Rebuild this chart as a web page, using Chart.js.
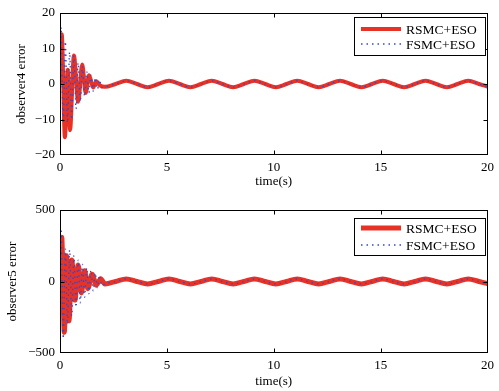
<!DOCTYPE html>
<html>
<head>
<meta charset="utf-8">
<script src="https://cdn.jsdelivr.net/npm/chart.js@4.4.1/dist/chart.umd.min.js"></script>
<style>
  html, body { margin: 0; padding: 0; background: #fff; }
  #wrap { position: relative; width: 499px; height: 391px; overflow: hidden; }
  #obs4 { position: absolute; left: 0; top: 0; }
  #obs5 { position: absolute; left: 0; top: 195px; }
</style>
</head>
<body>
<div id="wrap">
  <canvas id="obs4" width="499" height="195"></canvas>
  <canvas id="obs5" width="499" height="196"></canvas>
</div>
<script>
// time axis shared by both curves once they settle (s)
var steadyTime = [2.1, 2.6, 3.1, 3.6, 4.1, 4.6, 5.1, 5.6, 6.1, 6.6, 7.1, 7.6, 8.1, 8.6, 9.1, 9.6,
  10.1, 10.6, 11.1, 11.6, 12.1, 12.6, 13.1, 13.6, 14.1, 14.6, 15.1, 15.6, 16.1, 16.6, 17.1, 17.6,
  18.1, 18.6, 19.1, 19.6, 20];
var steadyErr4 = [-0.8, 0, 0.9, 0, -0.9, 0, 0.9, 0, -0.9, 0, 0.9, 0, -0.9, 0, 0.9, 0,
  -0.9, 0, 0.9, 0, -0.9, 0, 0.9, 0, -0.9, 0, 0.9, 0, -0.9, 0, 0.9, 0,
  -0.9, 0, 0.9, 0, -0.7];
var steadyErr5 = [-17, 0, 18, 0, -17, 0, 18, 0, -17, 0, 18, 0, -17, 0, 18, 0,
  -17, 0, 18, 0, -17, 0, 18, 0, -17, 0, 18, 0, -17, 0, 18, 0,
  -17, 0, 18, 0, -14];

// start-up transients
var rsmcTime4 = [0, 0.08, 0.23, 0.36, 0.47, 0.65, 0.85, 1.04, 1.2, 1.36, 1.55, 1.7, 1.85];
var rsmcErr4 = [0, 14, -15, 4, -13, 8, -5, 5.5, -2.5, 2.5, -1, 0.8, -0.3];
var fsmcTime4 = [0, 0.05, 0.15, 0.25, 0.35, 0.45, 0.55, 0.65, 0.75, 0.85, 0.95, 1.05, 1.15,
  1.25, 1.35, 1.45, 1.55, 1.65, 1.75, 1.85, 1.95];
var fsmcErr4 = [0, 16, -11, 12, -11, 9, -10, 8, -7, 6, -5, 5, -3.5, 3.5, -2.5, 2.5, -2, 1.8, -1.5, 1.2, -1];

var rsmcTime5 = [0, 0.08, 0.2, 0.31, 0.42, 0.55, 0.7, 0.85, 1.0, 1.15, 1.3, 1.5, 1.7, 1.9];
var rsmcErr5 = [0, 310, -355, 180, -275, 150, -130, 115, -80, 75, -50, 50, -25, 20];
var fsmcTime5 = [0, 0.05, 0.15, 0.25, 0.35, 0.45, 0.55, 0.65, 0.75, 0.85, 0.95, 1.05, 1.15,
  1.25, 1.35, 1.45, 1.55, 1.65, 1.75, 1.85, 1.95];
var fsmcErr5 = [0, 370, -400, 230, -300, 220, -240, 180, -180, 150, -150, 120, -110, 95, -85,
  80, -65, 60, -45, 45, -30];

var seriesLabels = ['RSMC+ESO', 'FSMC+ESO'];
var yTicks4 = [-20, -10, 0, 10, 20];
var yTicks5 = [-500, 0, 500];
var xTicks = [0, 5, 10, 15, 20];

var SERIF = '"Liberation Serif", "Times New Roman", serif';
var RED = 'rgb(232, 50, 38)';
var BLUE = 'rgb(52, 72, 205)';

function points(t, a, t2, b) {
  var out = [];
  t.forEach(function (v, i) { out.push({ x: v, y: a[i] }); });
  t2.forEach(function (v, i) { out.push({ x: v, y: b[i] }); });
  return out;
}

function minusSign(v) {
  return v < 0 ? '\u2212' + Math.abs(v) : String(v);
}

// box round the axes with inward ticks, like the matlab figure
var frame = {
  id: 'frame',
  afterDatasetsDraw: function (chart) {
    var ctx = chart.ctx, a = chart.chartArea;
    var xs = chart.scales.x, ys = chart.scales.y;
    var L = Math.round(a.left) + 0.5, R = Math.round(a.right) - 0.5;
    var T = Math.round(a.top) + 0.5, B = Math.round(a.bottom) - 0.5;
    ctx.save();
    ctx.strokeStyle = '#000';
    ctx.lineWidth = 1;
    ctx.strokeRect(L, T, R - L, B - T);
    ctx.beginPath();
    xs.ticks.forEach(function (tk) {
      var px = Math.round(xs.getPixelForValue(tk.value)) + 0.5;
      if (px <= L + 1 || px >= R - 1) return;
      ctx.moveTo(px, B); ctx.lineTo(px, B - 4);
      ctx.moveTo(px, T); ctx.lineTo(px, T + 4);
    });
    ys.ticks.forEach(function (tk) {
      var py = Math.round(ys.getPixelForValue(tk.value)) + 0.5;
      if (py <= T + 1 || py >= B - 1) return;
      ctx.moveTo(L, py); ctx.lineTo(L + 4, py);
      ctx.moveTo(R, py); ctx.lineTo(R - 4, py);
    });
    ctx.stroke();
    ctx.restore();
  }
};

var boxLegend = {
  id: 'boxLegend',
  afterDraw: function (chart, args, opts) {
    var ctx = chart.ctx, a = chart.chartArea;
    var x = Math.round(a.right - opts.right - opts.width);
    var y = Math.round(a.top + opts.top);
    ctx.save();
    ctx.fillStyle = '#fff';
    ctx.fillRect(x, y, opts.width, opts.height);
    ctx.strokeStyle = '#000';
    ctx.lineWidth = 1;
    ctx.strokeRect(x + 0.5, y + 0.5, opts.width, opts.height);
    chart.data.datasets.forEach(function (ds, i) {
      var ly = y + opts.rows[i];
      ctx.beginPath();
      ctx.setLineDash(ds.borderDash || []);
      ctx.lineWidth = ds.borderWidth;
      ctx.strokeStyle = ds.borderColor;
      ctx.moveTo(x + 7, ly);
      ctx.lineTo(x + 47, ly);
      ctx.stroke();
      ctx.setLineDash([]);
      ctx.fillStyle = '#000';
      ctx.font = '13.5px ' + SERIF;
      ctx.textBaseline = 'middle';
      ctx.fillText(ds.label, x + 52, ly + 1);
    });
    ctx.restore();
  }
};

function makeChart(id, cfg) {
  return new Chart(document.getElementById(id), {
    type: 'line',
    plugins: [frame, boxLegend],
    data: {
      datasets: [
        {
          label: seriesLabels[0],
          data: cfg.red,
          borderColor: RED,
          borderWidth: cfg.redWidth,
          pointRadius: 0,
          cubicInterpolationMode: 'monotone',
          order: 1
        },
        {
          label: seriesLabels[1],
          data: cfg.blue,
          borderColor: BLUE,
          borderWidth: 1.3,
          borderDash: [1.5, 4],
          pointRadius: 0,
          cubicInterpolationMode: 'monotone',
          order: 0
        }
      ]
    },
    options: {
      responsive: false,
      animation: false,
      devicePixelRatio: 1,
      layout: { padding: { top: cfg.top, right: 9, bottom: 0, left: 0 } },
      plugins: {
        legend: { display: false },
        tooltip: { enabled: false },
        boxLegend: cfg.legend
      },
      scales: {
        x: {
          type: 'linear',
          min: 0,
          max: 20,
          afterFit: function (s) { s.height = cfg.xHeight; },
          afterBuildTicks: function (s) { s.ticks = xTicks.map(function (v) { return { value: v }; }); },
          grid: { display: false, drawTicks: false },
          border: { display: false },
          ticks: { color: '#000', padding: 5, font: { family: SERIF, size: 13 }, maxRotation: 0 },
          title: { display: true, text: 'time(s)', color: '#000', font: { family: SERIF, size: 13 }, padding: { top: 0, bottom: cfg.xTitlePad } }
        },
        y: {
          min: cfg.yMin,
          max: cfg.yMax,
          afterFit: function (s) { s.width = 60; },
          afterBuildTicks: function (s) { s.ticks = cfg.yTicks.map(function (v) { return { value: v }; }); },
          grid: { display: false, drawTicks: false },
          border: { display: false },
          ticks: { color: '#000', padding: 5, font: { family: SERIF, size: 13 }, callback: minusSign },
          title: { display: true, text: cfg.yTitle, color: '#000', font: { family: SERIF, size: 13 }, padding: { top: cfg.titlePad, bottom: 0 } }
        }
      }
    }
  });
}

makeChart('obs4', {
  red: points(rsmcTime4, rsmcErr4, steadyTime, steadyErr4),
  blue: points(fsmcTime4, fsmcErr4, steadyTime, steadyErr4),
  redWidth: 4,
  top: 13,
  xHeight: 40,
  xTitlePad: 6,
  yMin: -20,
  yMax: 20,
  yTicks: yTicks4,
  yTitle: 'observer4 error',
  titlePad: 14,
  legend: { width: 131, height: 38, right: 3, top: 4, rows: [12, 27] }
});

makeChart('obs5', {
  red: points(rsmcTime5, rsmcErr5, steadyTime, steadyErr5),
  blue: points(fsmcTime5, fsmcErr5, steadyTime, steadyErr5),
  redWidth: 5,
  top: 15,
  xHeight: 38,
  xTitlePad: 2,
  yMin: -500,
  yMax: 500,
  yTicks: yTicks5,
  yTitle: 'observer5 error',
  titlePad: 5,
  legend: { width: 131, height: 37, right: 3, top: 8, rows: [10, 27] }
});
</script>
</body>
</html>
